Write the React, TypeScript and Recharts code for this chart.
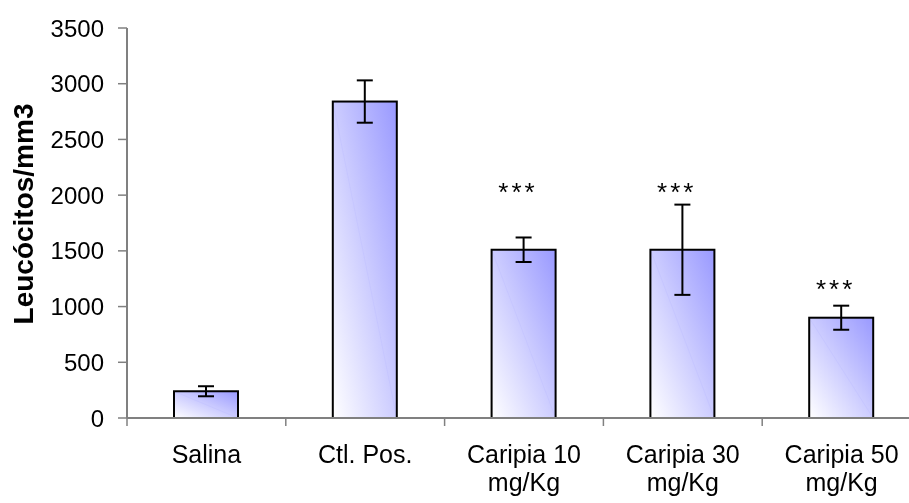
import {
  Bar,
  ComposedChart,
  ErrorBar,
  Scatter,
  XAxis,
  YAxis,
} from "recharts";

const categories = [
  "Salina",
  "Ctl. Pos.",
  "Caripia 10\nmg/Kg",
  "Caripia 30\nmg/Kg",
  "Caripia 50\nmg/Kg",
];
const means = [240, 2840, 1510, 1510, 900];
const sems = [45, 190, 110, 405, 108];
const stars = ["", "", "***", "***", "***"];
const starLevel = [null, null, 1956, 1956, 1086];
const yTicks = [0, 500, 1000, 1500, 2000, 2500, 3000, 3500];

const data = categories.map((name, i) => ({
  name,
  value: means[i],
  err: sems[i],
  star: stars[i],
  starAt: starLevel[i],
}));

const FONT = "'Liberation Sans', Arial, sans-serif";
const AXIS = "#808080";

function GradientBar(props: any) {
  const { x, y, width, height } = props;
  if (!height || height <= 0) return null;
  return (
    <g>
      <rect x={x} y={y} width={width} height={height} fill="url(#barFill)" />
      <line x1={x} y1={y} x2={x + width} y2={y + height} stroke="#c6c6ff" strokeWidth={1} />
      <rect x={x} y={y} width={width} height={height} fill="none" stroke="#000" strokeWidth={2} />
    </g>
  );
}

function CategoryTick(props: any) {
  const { x, y, payload, index, visibleTicksCount } = props;
  const half = payload.offset ?? 0;
  const lines = String(payload.value).split("\n");
  const last = index === (visibleTicksCount ?? categories.length) - 1;
  return (
    <g>
      <line x1={x - half} y1={y} x2={x - half} y2={y + 8} stroke={AXIS} strokeWidth={1.5} />
      {last && <line x1={x + half} y1={y} x2={x + half} y2={y + 8} stroke={AXIS} strokeWidth={1.5} />}
      <text x={x} y={y + 45} textAnchor="middle" fontFamily={FONT} fontSize={25} fill="#000">
        {lines.map((l, i) => (
          <tspan key={i} x={x} dy={i === 0 ? 0 : 28}>
            {l}
          </tspan>
        ))}
      </text>
    </g>
  );
}

function StarMark(props: any) {
  const { cx, cy, payload } = props;
  if (!payload?.star || cy == null || isNaN(cy)) return null;
  return (
    <text x={cx - 6} y={cy + 1} textAnchor="middle" fontFamily={FONT} fontSize={26} letterSpacing={3} fill="#000">
      {payload.star}
    </text>
  );
}

function YTitle(props: any) {
  const vb = props.viewBox;
  const cx = 24.5;
  const cy = vb.y + vb.height / 2 - 9;
  return (
    <text
      x={cx}
      y={cy}
      transform={`rotate(-90 ${cx} ${cy})`}
      textAnchor="middle"
      fontFamily={FONT}
      fontWeight="bold"
      fontSize={28}
      fill="#000"
    >
      Leucócitos/mm3
    </text>
  );
}

export default function App() {
  // fixed box so the clipped right edge and the bottom labels don't make the page scroll
  return (
    <div style={{ position: "fixed", top: 8, left: 8, width: 901, height: 495, overflow: "hidden" }}>
      <ComposedChart
        width={935}
        height={495}
        data={data}
        margin={{ top: 20, right: 22, left: 0, bottom: 9 }}
      >
        <defs>
          <linearGradient id="barFill" x1="0" y1="1" x2="1" y2="0">
            <stop offset="0%" stopColor="#ffffff" />
            <stop offset="100%" stopColor="#9999ff" />
          </linearGradient>
        </defs>
        <XAxis
          dataKey="name"
          height={76}
          interval={0}
          tickLine={false}
          tickSize={0}
          tickMargin={0}
          axisLine={{ stroke: AXIS, strokeWidth: 2 }}
          tick={<CategoryTick />}
        />
        <YAxis
          width={119}
          domain={[0, 3500]}
          ticks={yTicks}
          interval={0}
          tickSize={9}
          tickMargin={14}
          axisLine={{ stroke: AXIS, strokeWidth: 2 }}
          tickLine={{ stroke: AXIS, strokeWidth: 1.5 }}
          tick={{ fontFamily: FONT, fontSize: 24, fill: "#000" }}
          label={{ content: <YTitle /> }}
        />
        <Bar dataKey="value" barSize={64} shape={<GradientBar />} isAnimationActive={false}>
          <ErrorBar dataKey="err" width={8} stroke="#000" strokeWidth={2} direction="y" />
        </Bar>
        <Scatter dataKey="starAt" shape={<StarMark />} isAnimationActive={false} />
      </ComposedChart>
    </div>
  );
}
